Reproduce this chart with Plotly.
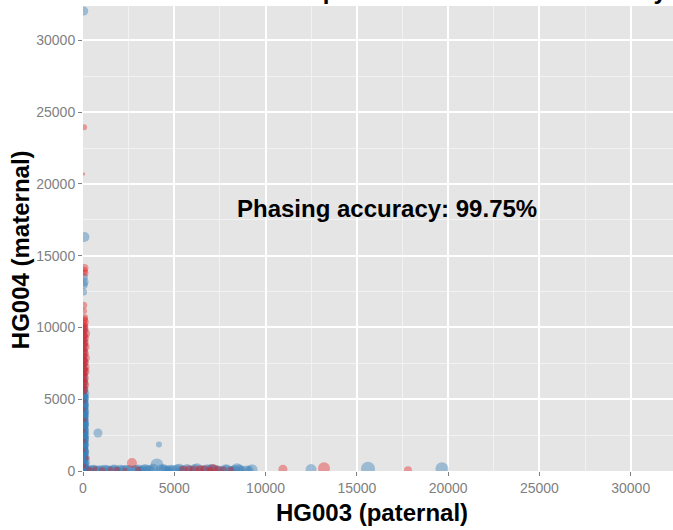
import plotly.graph_objects as go

# Per-site read counts assigned to each parental assembly
# series A (blue): column along the maternal axis
blue_col_x = [15, 60, 25, 110, 40, 70, 20, 55, 35, 80, 10, 45, 65, 25, 50, 30, 75, 15, 60, 40,
              20, 85, 35, 55, 10, 70, 30, 45, 20, 65, 40, 15, 55, 30, 75, 20, 50, 35, 10, 60,
              25, 45, 15, 70, 35, 20, 55, 30, 10, 45, 25, 60, 15, 40, 20, 35,
              40, 20, 65, 30, 50, 15, 70, 35, 25, 55, 10, 45, 60, 30, 20, 50, 40, 15, 65, 35,
              25, 55, 45, 30, 70, 20, 40, 60, 10, 50, 35, 25]
blue_col_y = [40, 180, 330, 630, 520, 760, 900, 1080, 1230, 1390, 1520, 1700, 1860, 2010, 2170,
              2340, 2480, 2650, 2800, 2970, 3130, 3290, 3440, 3600, 3770, 3920, 4080, 4250, 4410,
              4560, 4730, 4890, 5050, 5210, 5380, 5540, 5700, 5860, 6030, 6200, 6380, 6550, 6750,
              6930, 7120, 7350, 7580, 7820, 8050, 8330, 8600, 8880, 9170, 9450, 9730, 9980,
              110, 260, 420, 830, 990, 1160, 1310, 1460, 1610, 1780, 1940, 2090, 2260, 2410,
              2570, 2720, 2890, 3050, 3210, 3370, 3520, 3690, 3850, 4000, 4170, 4330, 4490,
              4650, 4810, 4970, 5130, 5300]
blue_col_s = [10, 11, 9, 10, 10, 9, 10, 9, 10, 9, 10, 9, 10, 9, 10, 9, 10, 9, 10, 9,
              10, 9, 10, 9, 10, 9, 10, 9, 10, 9, 10, 9, 10, 9, 10, 9, 9, 8, 9, 8,
              9, 8, 9, 8, 9, 8, 9, 8, 9, 8, 9, 8, 9, 8, 9, 8,
              10, 9, 10, 9, 10, 9, 10, 9, 10, 9, 10, 9, 10, 9, 10, 9, 10, 9, 10, 9,
              10, 9, 10, 9, 10, 9, 10, 9, 10, 9, 10, 9]

# series A (blue): high isolated sites and the paternal-axis row
blue_pt_x = [30, 40, 60, 50, 80, 40,
             820, 4160,
             250, 480, 700, 950, 1200, 1450, 1700, 1900, 2150, 2400, 2900, 3150, 3400, 3650,
             3850, 4050, 4300, 4550, 4800, 5150, 5400, 5700, 6000, 6250, 6550, 6800, 7050,
             7300, 7650, 7900, 8200, 8430, 8700, 9260, 12490, 15610, 19660,
             150, 360, 590, 820, 1080, 1330, 1580, 1800, 2030, 2280, 2550, 2780, 3030, 3280,
             3520, 4420, 4680, 4950, 5280, 5550, 5850, 6120, 6400, 6680, 6930, 7180, 7480,
             7780, 8050, 8330, 8580, 8950, 9100]
blue_pt_y = [12470, 12960, 13170, 13500, 16300, 32050,
             2650, 1850,
             60, 120, 40, 90, 150, 50, 110, 30, 80, 140, 70, 40, 110, 60,
             150, 420, 90, 50, 120, 80, 40, 100, 60, 130, 50, 90, 140,
             70, 40, 110, 60, 120, 50, 90, 100, 160, 150,
             30, 80, 150, 20, 70, 120, 40, 90, 160, 50, 100, 30, 140, 70,
             40, 120, 60, 30, 150, 90, 40, 110, 60, 20, 130, 80, 50,
             100, 30, 70, 140, 40, 60]
blue_pt_s = [7, 8, 9, 8, 10, 9,
             9, 6,
             9, 8, 10, 9, 8, 9, 10, 8, 9, 8, 10, 9, 11, 10,
             10, 13, 11, 10, 9, 11, 10, 11, 9, 12, 10, 11, 10,
             10, 9, 10, 9, 12, 9, 11, 11, 14, 13,
             10, 9, 8, 10, 9, 8, 10, 9, 8, 10, 9, 10, 9, 10,
             11, 10, 9, 11, 10, 9, 10, 11, 9, 10, 9, 10, 9,
             10, 9, 10, 9, 10, 9]

blue_x = blue_col_x + blue_pt_x
blue_y = blue_col_y + blue_pt_y
blue_s = blue_col_s + blue_pt_s

# series B (red)
red_x = [50, 90, 30, 120, 70, 40, 100, 20, 80, 140, 50, 110, 30, 90, 60, 130, 40, 100,
         70, 20, 120, 50, 90, 30, 110, 60, 140, 40, 80, 100, 30, 70, 50, 90, 60, 40,
         60, 30, 90, 40, 70, 20, 270, 50,
         60, 40, 80, 40, 110,
         350, 650, 1050, 1500, 1850, 2300, 2680, 3000, 5480, 5800, 6100, 6400, 6650,
         6950, 7120, 7390, 7700, 8100, 10950, 13200, 17800]
red_y = [5520, 5680, 5850, 6010, 6170, 6320, 6480, 6630, 6790, 6940, 7090, 7250, 7400,
         7560, 7710, 7870, 8020, 8180, 8340, 8490, 8650, 8800, 8960, 9110, 9270, 9430,
         9580, 9740, 9900, 10060, 10220, 10380, 10540, 10700, 11150, 11550,
         4850, 4300, 3550, 2800, 2100, 1450, 900, 350,
         23950, 20700, 14150, 13950, 13800,
         80, 150, 60, 120, 90, 50, 560, 100, 90, 150, 60, 120, 80,
         40, 140, 70, 110, 50, 120, 200, 60]
red_s = [6, 7, 6, 8, 7, 6, 8, 7, 6, 8, 7, 9, 6, 8, 7, 9, 6, 8, 7, 6, 9, 7, 8, 6, 8, 7,
         9, 6, 8, 7, 8, 9, 8, 7, 6, 7,
         4, 4, 4, 4, 4, 4, 4, 5,
         6, 3, 8, 8, 7,
         6, 5, 6, 5, 6, 5, 10, 6, 8, 7, 9, 8, 9,
         7, 10, 8, 6, 7, 9, 12, 8]

accuracy_label = "Phasing accuracy: 99.75%"
accuracy_pos = (16650, 18260)

x_title = "HG003 (paternal)"
y_title = "HG004 (maternal)"
plot_title = "Read counts: paternal vs maternal accuracy"

FONT = "Liberation Sans, Arial, Helvetica, sans-serif"
TICK_GREY = "#7F7F7F"

fig = go.Figure()
fig.add_trace(go.Scatter(
    x=blue_x, y=blue_y, mode="markers", showlegend=False,
    marker=dict(size=blue_s, color="rgba(55,126,184,0.6)", line=dict(width=0)),
))
fig.add_trace(go.Scatter(
    x=red_x, y=red_y, mode="markers", showlegend=False,
    marker=dict(size=red_s, color="rgba(228,26,28,0.55)", line=dict(width=0)),
))

axis_common = dict(
    showgrid=True, gridcolor="white", gridwidth=1.5,
    zeroline=False, showline=False,
    ticks="outside", ticklen=4, tickwidth=1, tickcolor=TICK_GREY,
    tickfont=dict(family=FONT, size=14, color=TICK_GREY),
    tickformat="d", dtick=5000, tick0=0,
    minor=dict(dtick=2500, tick0=0, showgrid=True, gridcolor="#F2F2F2", gridwidth=0.8),
)

fig.update_layout(
    width=673, height=530,
    margin=dict(l=83, r=0, t=6, b=59),
    paper_bgcolor="white", plot_bgcolor="#E5E5E5",
    xaxis=dict(range=[0, 32316], **axis_common),
    yaxis=dict(range=[0, 32400], **axis_common),
    annotations=[
        dict(text=f"<b>{accuracy_label}</b>", x=accuracy_pos[0], y=accuracy_pos[1],
             xref="x", yref="y", showarrow=False,
             font=dict(family=FONT, size=24, color="black")),
        dict(text=f"<b>{x_title}</b>", x=0.49, y=-0.0903, xref="paper", yref="paper",
             showarrow=False, yanchor="middle",
             font=dict(family=FONT, size=24, color="black")),
        dict(text=f"<b>{y_title}</b>", x=-0.1068, y=0.477, xref="paper", yref="paper",
             showarrow=False, textangle=-90, xanchor="center", yanchor="middle",
             font=dict(family=FONT, size=24, color="black")),
        dict(text=f"<b>{plot_title}</b>", x=0.134, y=1.0, xref="paper", yref="paper",
             showarrow=False, xanchor="left", yanchor="bottom",
             font=dict(family=FONT, size=24, color="black")),
    ],
)

fig.write_html("out.html")
